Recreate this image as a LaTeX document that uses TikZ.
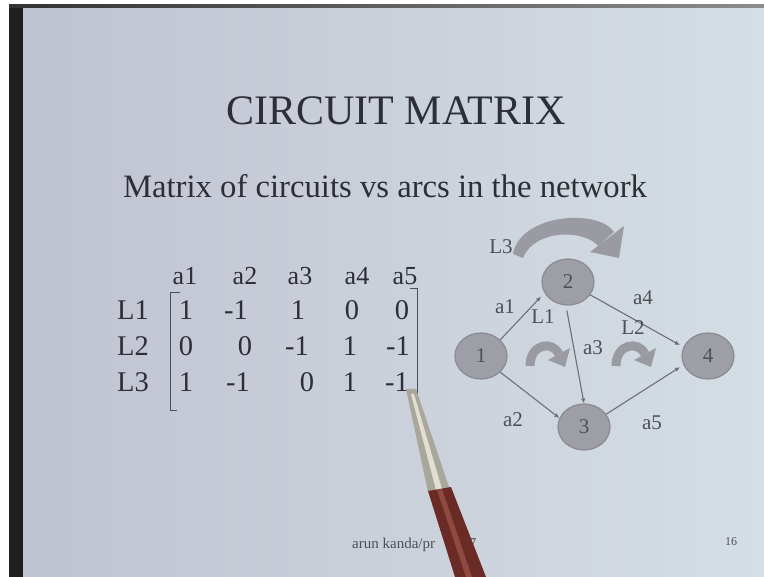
\documentclass[tikz,border=0pt]{standalone}
\usepackage{fontspec}
\setmainfont{Liberation Serif}
\usetikzlibrary{arrows.meta,shapes.geometric}
\definecolor{ink}{HTML}{2E2F36}
\definecolor{gink}{HTML}{4E4F56}
\definecolor{nodefill}{HTML}{9E9FA6}
\definecolor{nodeedge}{HTML}{898A92}
\definecolor{edgecol}{HTML}{6E6F77}
\definecolor{bandcol}{HTML}{9A9BA2}
\definecolor{slideL}{HTML}{C0C3D1}
\definecolor{slideR}{HTML}{D5DEE4}
\definecolor{penbody}{HTML}{6A2B26}
\definecolor{penlight}{HTML}{8E4A40}
\definecolor{pentip}{HTML}{A9A69C}
\definecolor{pentiplight}{HTML}{E2DFD2}
\begin{document}
\begin{tikzpicture}[x=1pt,y=-1pt,
  titletext/.style={font=\fontsize{42}{42}\selectfont, text=ink, anchor=base, inner sep=0pt},
  subtext/.style={font=\fontsize{32.7}{33}\selectfont, text=ink, anchor=base, inner sep=0pt},
  hdr/.style={font=\fontsize{26}{26}\selectfont, text=ink, anchor=base, inner sep=0pt},
  mtx/.style={font=\fontsize{28.5}{28.5}\selectfont, text=ink, anchor=base, inner sep=0pt},
  bracketline/.style={draw=gink, line width=1pt},
  gnode/.style={ellipse, minimum width=52pt, minimum height=46pt, inner sep=0pt, fill=nodefill, draw=nodeedge, line width=1.2pt, font=\fontsize{21}{21}\selectfont, text=gink},
  glabel/.style={font=\fontsize{21}{21}\selectfont, text=gink, inner sep=0pt},
  edge/.style={draw=edgecol, line width=1.1pt, -{Latex[length=5pt,width=4.5pt]}},
  smallband/.style={draw=bandcol, line width=9pt},
  bandhead/.style={fill=bandcol},
  foot/.style={font=\fontsize{15}{15}\selectfont, text=gink, anchor=base west, inner sep=0pt}
]
\useasboundingbox (0,0) rectangle (764,577);
% background
\fill[white] (0,0) rectangle (764,577);
\shade[left color=slideL, right color=slideR] (23,8) rectangle (764,577);
\fill[black!88] (9,5) rectangle (23,577);
\shade[left color=black!80, right color=black!45] (9,5) rectangle (764,8);

% title
\node[titletext] (title) at (396,125) {CIRCUIT MATRIX};
\node[subtext] (sub) at (385,198) {Matrix of circuits vs arcs in the network};

% matrix headers
\node[hdr] (h1) at (185,285) {a1};
\node[hdr] (h2) at (245,285) {a2};
\node[hdr] (h3) at (300,285) {a3};
\node[hdr] (h4) at (357,285) {a4};
\node[hdr] (h5) at (405,285) {a5};
% row labels
\node[mtx] (r1) at (133,320) {L1};
\node[mtx] (r2) at (133,356) {L2};
\node[mtx] (r3) at (133,392) {L3};
% entries
\node[mtx] (m11) at (186,320) {1};
\node[mtx] (m12) at (236,320) {-1};
\node[mtx] (m13) at (298,320) {1};
\node[mtx] (m14) at (352,320) {0};
\node[mtx] (m15) at (402,320) {0};
\node[mtx] (m21) at (186,356) {0};
\node[mtx] (m22) at (245,356) {0};
\node[mtx] (m23) at (297,356) {-1};
\node[mtx] (m24) at (350,356) {1};
\node[mtx] (m25) at (398,356) {-1};
\node[mtx] (m31) at (186,392) {1};
\node[mtx] (m32) at (238,392) {-1};
\node[mtx] (m33) at (307,392) {0};
\node[mtx] (m34) at (350,392) {1};
\node[mtx] (m35) at (397,392) {-1};
% brackets
\draw[bracketline] (180,293) -- (170,293) -- (170,411) -- (177,411);
\draw[bracketline] (410,289) -- (417,289) -- (417,400);

% circulation arrows (tapered band + head)
\fill[bandcol] (513,254) .. controls (520,214) and (598,208) .. (614,232)
  -- (598,246) .. controls (586,230) and (535,228) .. (523,258) -- cycle;
\fill[bandhead] (624,226) -- (590,252) -- (619,258) -- cycle;
\draw[smallband] (530,366) .. controls (530,344) and (552,340) .. (559,354);
\fill[bandhead] (570,348) -- (548,360) -- (565,367) -- cycle;
\draw[smallband] (616,366) .. controls (616,344) and (638,340) .. (645,354);
\fill[bandhead] (656,348) -- (634,360) -- (651,367) -- cycle;

% graph
\node[gnode] (n1) at (481,356) {1};
\node[gnode] (n2) at (568,282) {2};
\node[gnode] (n3) at (584,427) {3};
\node[gnode] (n4) at (708,356) {4};
\draw[edge, shorten >=5pt] (n1.40) -- (n2.205);
\draw[edge] (n1.-40) -- (n3.160);
\draw[edge, shorten <=5pt] (n2.-95) -- (n3.90);
\draw[edge, shorten >=4pt] (n2.-30) -- (n4.160);
\draw[edge, shorten >=4pt] (n3.30) -- (n4.200);
\node[glabel] (la1) at (505,307) {a1};
\node[glabel] (la2) at (513,420) {a2};
\node[glabel] (la3) at (593,348) {a3};
\node[glabel] (la4) at (643,298) {a4};
\node[glabel] (la5) at (652,423) {a5};
\node[glabel] (lL1) at (543,317) {L1};
\node[glabel] (lL2) at (633,328) {L2};
\node[glabel] (lL3) at (501,247) {L3};

% footer
\node[foot] (ft) at (352,548) {arun kanda/pr\hspace{22pt}m7};
\node[foot, font=\fontsize{12}{12}\selectfont] (pg) at (725,545) {16};

% pen
\fill[pentip] (406,389) -- (416,389) -- (450,490) -- (428,492) -- cycle;
\fill[pentiplight] (411,394) -- (414,394) -- (442,489) -- (436,490) -- cycle;
\fill[penbody] (428,491) -- (451,487) -- (486,577) -- (455,577) -- cycle;
\fill[penlight] (437,490) -- (442,489) -- (472,577) -- (466,577) -- cycle;
\end{tikzpicture}
\end{document}
